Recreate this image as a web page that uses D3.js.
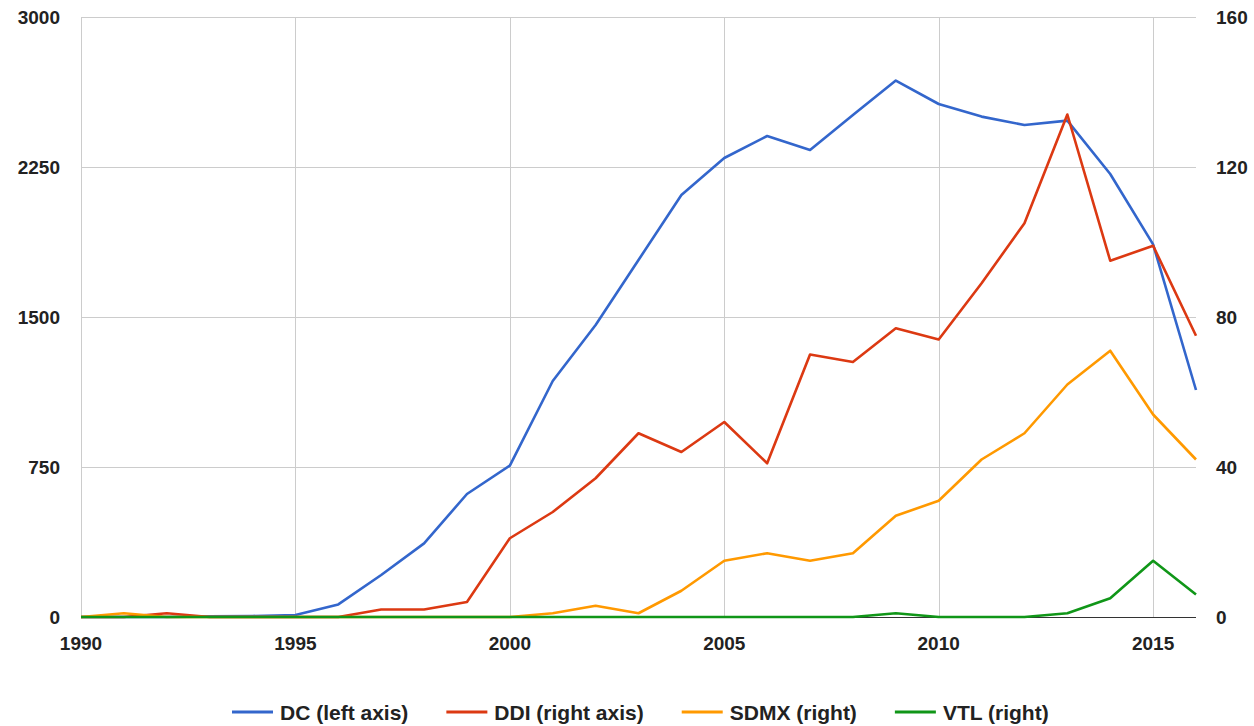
<!DOCTYPE html>
<html>
<head>
<meta charset="utf-8">
<script src="https://cdn.jsdelivr.net/npm/d3@7"></script>
<style>
  body { margin: 0; background: #fff; }
  svg text { font-family: "Liberation Sans", Arial, sans-serif; }
</style>
</head>
<body>
<svg id="chart" width="1254" height="726"></svg>
<script>
// data
var years = [1990, 1991, 1992, 1993, 1994, 1995, 1996, 1997, 1998, 1999, 2000, 2001, 2002,
  2003, 2004, 2005, 2006, 2007, 2008, 2009, 2010, 2011, 2012, 2013, 2014, 2015, 2016];
var dc   = [0, 0, 0, 3, 5, 10, 63, 210, 368, 615, 757, 1180, 1460, 1785, 2110, 2295, 2405,
  2335, 2510, 2682, 2565, 2502, 2460, 2482, 2215, 1863, 1135];
var ddi  = [0, 0, 1, 0, 0, 0, 0, 2, 2, 4, 21, 28, 37, 49, 44, 52, 41, 70, 68, 77, 74, 89,
  105, 134, 95, 99, 75];
var sdmx = [0, 1, 0, 0, 0, 0, 0, 0, 0, 0, 0, 1, 3, 1, 7, 15, 17, 15, 17, 27, 31, 42, 49,
  62, 71, 54, 42];
var vtl  = [0, 0, 0, 0, 0, 0, 0, 0, 0, 0, 0, 0, 0, 0, 0, 0, 0, 0, 0, 1, 0, 0, 0, 1, 5, 15, 6];
var xTicks = [1990, 1995, 2000, 2005, 2010, 2015];
var leftTicks = [0, 750, 1500, 2250, 3000];
var rightTicks = [0, 40, 80, 120, 160];
var seriesNames = ["DC (left axis)", "DDI (right axis)", "SDMX (right)", "VTL (right)"];
var colors = ["#3366cc", "#dc3912", "#ff9900", "#109618"];

(function () {
  var svg = d3.select("#chart");
  var left = 81, right = 1196, top = 17, bottom = 617;

  var x = d3.scaleLinear().domain([1990, 2016]).range([left, right]);
  var yL = d3.scaleLinear().domain([0, 3000]).range([bottom, top]);
  var yR = d3.scaleLinear().domain([0, 160]).range([bottom, top]);

  // gridlines
  svg.append("g").selectAll("line.h")
    .data(leftTicks)
    .enter().append("line")
    .attr("x1", left).attr("x2", right)
    .attr("y1", function (d) { return yL(d) + 0.5; })
    .attr("y2", function (d) { return yL(d) + 0.5; })
    .attr("stroke", "#cccccc").attr("stroke-width", 1);

  svg.append("g").selectAll("line.v")
    .data(xTicks)
    .enter().append("line")
    .attr("x1", function (d) { return Math.round(x(d)) + 0.5; })
    .attr("x2", function (d) { return Math.round(x(d)) + 0.5; })
    .attr("y1", top).attr("y2", bottom)
    .attr("stroke", "#cccccc").attr("stroke-width", 1);

  // baseline
  svg.append("line")
    .attr("x1", left).attr("x2", right)
    .attr("y1", yL(0) + 0.5).attr("y2", yL(0) + 0.5)
    .attr("stroke", "#333").attr("stroke-width", 1);

  // axis labels
  var lab = { "font-size": "19px", "font-weight": "bold", "fill": "#222" };

  var gl = svg.append("g").selectAll("text")
    .data(leftTicks).enter().append("text")
    .attr("x", 60)
    .attr("y", function (d) { return yL(d); })
    .attr("dy", "0.35em")
    .attr("text-anchor", "end")
    .text(function (d) { return d; });

  var gr = svg.append("g").selectAll("text")
    .data(rightTicks).enter().append("text")
    .attr("x", 1216)
    .attr("y", function (d) { return yR(d); })
    .attr("dy", "0.35em")
    .attr("text-anchor", "start")
    .text(function (d) { return d; });

  var gx = svg.append("g").selectAll("text")
    .data(xTicks).enter().append("text")
    .attr("x", function (d) { return x(d); })
    .attr("y", 650)
    .attr("text-anchor", "middle")
    .text(function (d) { return d; });

  [gl, gr, gx].forEach(function (s) {
    for (var k in lab) s.style(k, lab[k]);
  });

  // lines
  var series = [
    { vals: dc, scale: yL },
    { vals: ddi, scale: yR },
    { vals: sdmx, scale: yR },
    { vals: vtl, scale: yR }
  ];

  series.forEach(function (s, i) {
    var line = d3.line()
      .x(function (d, j) { return x(years[j]); })
      .y(function (d) { return s.scale(d); });
    svg.append("path")
      .datum(s.vals)
      .attr("fill", "none")
      .attr("stroke", colors[i])
      .attr("stroke-width", 2.6)
      .attr("stroke-linejoin", "round")
      .attr("d", line);
  });

  // legend
  var lg = svg.append("g");
  var cx = 232, ly = 712;
  seriesNames.forEach(function (name, i) {
    lg.append("line")
      .attr("x1", cx).attr("x2", cx + 41)
      .attr("y1", ly).attr("y2", ly)
      .attr("stroke", colors[i]).attr("stroke-width", 3);
    var t = lg.append("text")
      .attr("x", cx + 48)
      .attr("y", ly)
      .attr("dy", "0.36em")
      .style("font-size", "21px")
      .style("font-weight", "bold")
      .style("fill", "#222")
      .text(name);
    cx += 48 + t.node().getComputedTextLength() + 38;
  });
})();
</script>
</body>
</html>
